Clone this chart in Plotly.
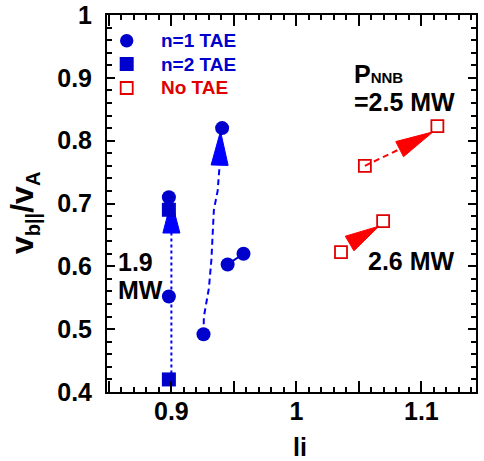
import plotly.graph_objects as go
import math

# ---------------- data ----------------
n1_li = [0.898, 0.898, 0.9406, 0.9257, 0.945, 0.9577]
n1_v = [0.710, 0.552, 0.820, 0.492, 0.603, 0.620]
n2_li = [0.898, 0.898]
n2_v = [0.690, 0.420]
no_li = [1.0548, 1.1128, 1.0357, 1.0694]
no_v = [0.760, 0.823, 0.6225, 0.672]

# trajectories (dashed / solid connectors)
traj1_li = [0.900, 0.900]
traj1_v = [0.420, 0.653]
traj2_li = [0.9257, 0.926, 0.930, 0.932, 0.934, 0.937, 0.9386]
traj2_v = [0.492, 0.520, 0.565, 0.610, 0.690, 0.720, 0.761]
traj3_li = [0.945, 0.9577]
traj3_v = [0.603, 0.620]
traj4_li = [1.0548, 1.0826]
traj4_v = [0.760, 0.7865]

# arrowheads: base -> tip
arrow_base_li = [0.900, 0.9386, 1.0826, 1.0426]
arrow_base_v = [0.653, 0.761, 0.7865, 0.6363]
arrow_tip_li = [0.900, 0.9393, 1.1093, 1.0661]
arrow_tip_v = [0.705, 0.815, 0.814, 0.6639]
arrow_color = ["#0000ff", "#0000ff", "#ff0000", "#ff0000"]

legend_labels = ["n=1 TAE", "n=2 TAE", "No TAE"]
x_tickvals = [0.9, 1.0, 1.1]
x_ticktext = ["0.9", "1", "1.1"]
x_major_ticks = [0.85, 0.90, 0.95, 1.00, 1.05, 1.10]
y_major_ticks = [0.4, 0.5, 0.6, 0.7, 0.8, 0.9, 1.0]

# ---------------- layout constants ----------------
W, H = 484, 461
ML, MR, MT, MB = 107, 8, 15, 69
PW, PH = W - ML - MR, H - MT - MB
XR = [0.8485, 0.8485 + PW / 1250.0]
YR = [0.4, 1.0]
sx = PW / (XR[1] - XR[0])
sy = PH / (YR[1] - YR[0])

BLUE = "#0000cc"
BLUE2 = "#0000ff"
RED = "#e00000"
FONT = "Liberation Sans, Arial, sans-serif"

def px2paper(px, py):
    return (px - ML) / PW, (MT + PH - py) / PH

fig = go.Figure()

# connectors
fig.add_trace(go.Scatter(x=traj1_li, y=traj1_v, mode="lines",
                         line=dict(color=BLUE2, width=2, dash="3px,3px"), showlegend=False))
fig.add_trace(go.Scatter(x=traj2_li, y=traj2_v, mode="lines",
                         line=dict(color=BLUE2, width=2, dash="6px,4px"), showlegend=False))
fig.add_trace(go.Scatter(x=traj3_li, y=traj3_v, mode="lines",
                         line=dict(color=BLUE, width=2), showlegend=False))
fig.add_trace(go.Scatter(x=traj4_li, y=traj4_v, mode="lines",
                         line=dict(color="#ff0000", width=2, dash="6px,4px"), showlegend=False))

# arrowheads as filled triangles
HALF_W = 8.5
for bx, by, tx, ty, c in zip(arrow_base_li, arrow_base_v, arrow_tip_li, arrow_tip_v, arrow_color):
    dx, dy = (tx - bx) * sx, (ty - by) * sy
    L = math.hypot(dx, dy)
    nx, ny = -dy / L * HALF_W, dx / L * HALF_W
    xs = [tx, bx + nx / sx, bx - nx / sx, tx]
    ys = [ty, by + ny / sy, by - ny / sy, ty]
    fig.add_trace(go.Scatter(x=xs, y=ys, mode="lines", fill="toself", fillcolor=c,
                             line=dict(color=c, width=1), showlegend=False, hoverinfo="skip"))

# markers
fig.add_trace(go.Scatter(x=n1_li, y=n1_v, mode="markers", name=legend_labels[0],
                         marker=dict(symbol="circle", size=14, color=BLUE), showlegend=False))
fig.add_trace(go.Scatter(x=n2_li, y=n2_v, mode="markers", name=legend_labels[1],
                         marker=dict(symbol="square", size=14, color=BLUE), showlegend=False))
fig.add_trace(go.Scatter(x=no_li, y=no_v, mode="markers", name=legend_labels[2],
                         marker=dict(symbol="square-open", size=12, color=RED,
                                     line=dict(width=1.8, color=RED)), showlegend=False))

# manual legend
shapes = []
leg_rows = [40.7, 64.0, 88.0]
leg_mx = 126.7
for i, yy in enumerate(leg_rows):
    px_, py_ = px2paper(leg_mx, yy)
    common = dict(xref="paper", yref="paper", xsizemode="pixel", ysizemode="pixel",
                  xanchor=px_, yanchor=py_)
    if i == 0:
        shapes.append(dict(type="circle", x0=-6.7, x1=6.7, y0=-6.7, y1=6.7,
                           fillcolor=BLUE, line=dict(width=0), **common))
    elif i == 1:
        shapes.append(dict(type="rect", x0=-7, x1=7, y0=-7, y1=7,
                           fillcolor=BLUE, line=dict(width=0), **common))
    else:
        shapes.append(dict(type="rect", x0=-6, x1=6, y0=-6, y1=6,
                           fillcolor="white", line=dict(width=1.8, color=RED), **common))

annotations = []
leg_colors = [BLUE, BLUE, RED]
for lab, yy, c in zip(legend_labels, leg_rows, leg_colors):
    ax_, ay_ = px2paper(159, yy)
    annotations.append(dict(text=lab, x=ax_, y=ay_, xref="paper", yref="paper",
                            xanchor="left", yanchor="middle", showarrow=False,
                            font=dict(family=FONT, size=19, color=c, weight="bold")))

def txt(t, px, py, size=25, anchor="left"):
    ax_, ay_ = px2paper(px, py)
    annotations.append(dict(text=t, x=ax_, y=ay_, xref="paper", yref="paper",
                            xanchor=anchor, yanchor="middle", showarrow=False,
                            font=dict(family=FONT, size=size, color="black", weight="bold")))

txt("P<span style='font-size:15px'>NNB</span>", 352, 73.5, 25)
txt("=2.5 MW", 352, 101.7, 25)
txt("1.9", 116, 261.7, 25)
txt("MW", 116, 290, 25)
txt("2.6 MW", 366, 260.8, 25)
txt("li", 300, 447, 25, anchor="center")

# y title
yx, yy_ = px2paper(24, 213)
annotations.append(dict(text="v<sub><span style='font-size:20px'>b||</span></sub>/v<sub><span style='font-size:20px'>A</span></sub>",
                        x=yx, y=yy_, xref="paper", yref="paper", textangle=-90,
                        xanchor="center", yanchor="middle", showarrow=False,
                        font=dict(family=FONT, size=32, color="black", weight="bold")))

tickfont = dict(family=FONT, size=25, color="black", weight="bold")
minor_x = dict(tick0=0.85, dtick=0.01, ticks="inside", ticklen=5, tickwidth=2,
               tickcolor="black", showgrid=False)
minor_y = dict(tick0=0.4, dtick=0.02, ticks="inside", ticklen=5, tickwidth=2,
               tickcolor="black", showgrid=False)
fig.update_layout(
    width=W, height=H,
    margin=dict(l=ML, r=MR, t=MT, b=MB, autoexpand=False),
    paper_bgcolor="white", plot_bgcolor="white",
    showlegend=False,
    shapes=shapes, annotations=annotations,
    xaxis=dict(range=XR, showgrid=False, zeroline=False, automargin=False,
               showline=True, linewidth=2, linecolor="black", mirror="allticks",
               ticks="inside", ticklen=11, tickwidth=2, tickcolor="black",
               tickmode="array", tickvals=x_major_ticks,
               ticktext=["" if v not in x_tickvals else x_ticktext[x_tickvals.index(v)]
                         for v in x_major_ticks],
               ticklabelstandoff=-4, tickfont=tickfont, minor=minor_x, layer="above traces"),
    yaxis=dict(range=YR, showgrid=False, zeroline=False, automargin=False,
               showline=True, linewidth=2, linecolor="black", mirror="allticks",
               ticks="inside", ticklen=8, tickwidth=2, tickcolor="black",
               tickmode="array", tickvals=y_major_ticks,
               ticklabelstandoff=8, tickfont=tickfont, minor=minor_y, layer="above traces"),
)

fig.write_html("out.html", config={"displayModeBar": False},
               post_script="document.body.style.margin='0px';")
